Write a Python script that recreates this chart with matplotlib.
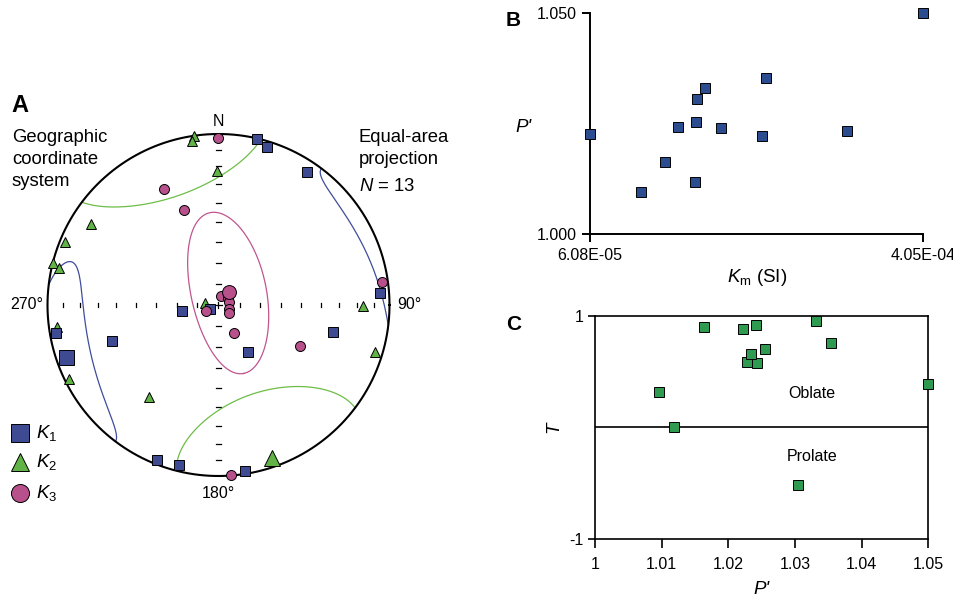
""" AMS SUMMARY FIGURE
    ------------------
    Equal-area stereonet of the principal susceptibility axes (A),
    degree of anisotropy versus bulk susceptibility (B) and shape
    parameter versus degree of anisotropy (C).
"""

import numpy as np
import matplotlib
matplotlib.use('Agg')
import matplotlib.pyplot as plt


# -------------------------------------------------------------------------------
# 0. DATA
# -------------------------------------------------------------------------------

# Projected axis positions on the lower-hemisphere net (unit primitive circle)

k1_x = [0.223, 0.282, 0.519, 0.944, 0.671, 0.174, -0.212, -0.050, -0.625, -0.950, -0.358, -0.229, 0.155]
k1_y = [0.969, 0.922, 0.778, 0.070, -0.158, -0.273, -0.035, -0.023, -0.212, -0.165, -0.906, -0.937, -0.971]

k2_x = [-0.143, -0.153, -0.007, -0.746, -0.898, -0.970, -0.931, -0.079, 0.843, -0.946, 0.917, -0.873, -0.405]
k2_y = [0.988, 0.961, 0.784, 0.472, 0.370, 0.247, 0.218, 0.013, -0.006, -0.130, -0.275, -0.431, -0.536]

k3_x = [-0.001, -0.319, -0.200, 0.954, 0.015, 0.054, 0.060, 0.060, 0.060, -0.073, 0.092, 0.477, 0.075]
k3_y = [0.977, 0.678, 0.556, 0.136, 0.054, 0.039, 0.018, -0.023, -0.044, -0.033, -0.165, -0.240, -0.994]

# Mean directions (projected) and 95% confidence semi-angles [deg] with ellipse rotation [deg]

mean_x = [-0.894, 0.315, 0.060]
mean_y = [-0.302, -0.896, 0.076]
conf_e1 = [15.0, 38.0, 39.7]
conf_e2 = [35.0, 34.0, 17.9]
conf_rot = [-12.0, 0.0, 50.0]

# Scalar parameters per specimen

km = [6.08e-5, 1.132e-4, 1.386e-4, 1.517e-4, 1.703e-4, 1.713e-4, 1.692e-4,
      1.799e-4, 1.958e-4, 2.387e-4, 2.422e-4, 3.265e-4, 4.05e-4]
p_prime = [1.0228, 1.0096, 1.0163, 1.0243, 1.0255, 1.0305, 1.0119,
           1.0332, 1.0241, 1.0222, 1.0354, 1.0234, 1.0500]
shape_t = [0.587, 0.314, 0.904, 0.575, 0.701, -0.521, 0.0,
           0.952, 0.922, 0.880, 0.760, 0.656, 0.389]


# -------------------------------------------------------------------------------
# 1. STYLE
# -------------------------------------------------------------------------------

plt.rcParams['font.family'] = ['Liberation Sans', 'DejaVu Sans']
plt.rcParams['mathtext.fontset'] = 'custom'
plt.rcParams['mathtext.rm'] = 'Liberation Sans'
plt.rcParams['mathtext.it'] = 'Liberation Sans:italic'

c_k1 = '#3e4a92'
c_k2 = '#62b347'
c_k3 = '#b8508c'
c_l1 = '#3f4d9c'
c_l2 = '#6dbd47'
c_l3 = '#c0558f'

W, H = 954, 598


def fx(px):
    return px / W


def fy(py):
    return 1 - py / H


# -------------------------------------------------------------------------------
# 2. STEREONET HELPERS
# -------------------------------------------------------------------------------

def unproject(x, y):

    """ Equal-area inverse: projected point -> unit vector (north, east, down) """

    r2 = x ** 2 + y ** 2
    d = 1 - r2
    s = np.sqrt(1 + d)
    return np.array([y * s, x * s, d])


def project(v):

    """ Equal-area lower-hemisphere projection of unit vectors (n, e, d) """

    v = np.where(v[:, 2:3] < 0, -v, v)
    s = 1 / np.sqrt(1 + v[:, 2])
    return v[:, 1] * s, v[:, 0] * s


def confidence_cone(x0, y0, e1, e2, rot, n=721):

    """ Elliptical cone around a mean direction, split where it crosses the primitive """

    m = unproject(x0, y0)
    tr = np.arctan2(m[1], m[0])
    pl = np.arcsin(m[2])
    u = np.array([-np.sin(pl) * np.cos(tr), -np.sin(pl) * np.sin(tr), np.cos(pl)])
    v = np.array([-np.sin(tr), np.cos(tr), 0.0])
    rot = np.radians(rot)
    a1 = np.cos(rot) * u + np.sin(rot) * v
    a2 = -np.sin(rot) * u + np.cos(rot) * v
    e1, e2 = np.radians(e1), np.radians(e2)

    t = np.linspace(0, 2 * np.pi, n)[:-1]
    rho = e1 * e2 / np.sqrt((e2 * np.cos(t)) ** 2 + (e1 * np.sin(t)) ** 2)
    pts = (np.cos(rho)[:, None] * m
           + np.sin(rho)[:, None] * (np.cos(t)[:, None] * a1 + np.sin(t)[:, None] * a2))

    up = pts[:, 2] < 0
    change = np.nonzero(up != np.roll(up, 1))[0]
    if len(change) == 0:
        pts = np.vstack([pts, pts[:1]])
        return [project(pts)]
    pts = np.roll(pts, -change[0], axis=0)
    up = np.roll(up, -change[0])
    cuts = np.nonzero(up[1:] != up[:-1])[0] + 1
    return [project(seg) for seg in np.split(pts, cuts)]


# -------------------------------------------------------------------------------
# 3. FIGURE
# -------------------------------------------------------------------------------

fig = plt.figure(figsize=(W / 100, H / 100), dpi=100)

# Panel A: stereonet

cx, cy, R = 218.5, 305, 171
ax = fig.add_axes([fx(cx - R), fy(cy + R), 2 * R / W, 2 * R / H])
ax.set_xlim(-1, 1)
ax.set_ylim(-1, 1)
ax.axis('off')

theta = np.linspace(0, 2 * np.pi, 400)
ax.plot(np.cos(theta), np.sin(theta), color='black', lw=1.5, clip_on=False, zorder=3)

# plunge ticks every 10 degrees along the two diameters
tick_r = np.sqrt(2) * np.sin(np.radians(np.arange(10, 90, 10)) / 2)
for r in tick_r:
    for s in (-1, 1):
        ax.plot([s * r, s * r], [-0.013, 0.013], color='black', lw=0.9)
        ax.plot([-0.015, 0.015], [s * r, s * r], color='black', lw=0.9)
ax.plot([-0.02, 0.02], [0, 0], color='black', lw=0.9)
ax.plot([0, 0], [-0.02, 0.02], color='black', lw=0.9)

for i, col in enumerate([c_l1, c_l2, c_l3]):
    for sx, sy in confidence_cone(mean_x[i], mean_y[i], conf_e1[i], conf_e2[i], conf_rot[i]):
        ax.plot(sx, sy, color=col, lw=0.9, clip_on=False, zorder=2)

mk = dict(linestyle='none', markeredgecolor='black', markeredgewidth=0.7, clip_on=False)
ax.plot(k2_x, k2_y, marker='^', markersize=7.2, markerfacecolor=c_k2, zorder=4, **mk)
ax.plot(k1_x, k1_y, marker='s', markersize=6.8, markerfacecolor=c_k1, zorder=5, **mk)
ax.plot(k3_x, k3_y, marker='o', markersize=7.2, markerfacecolor=c_k3, zorder=6, **mk)
ax.plot(mean_x[1], mean_y[1], marker='^', markersize=11, markerfacecolor=c_k2, zorder=4, **mk)
ax.plot(mean_x[0], mean_y[0], marker='s', markersize=10.8, markerfacecolor=c_k1, zorder=5, **mk)
ax.plot(mean_x[2], mean_y[2], marker='o', markersize=10, markerfacecolor=c_k3, zorder=6, **mk)

# legend
for ly, m, col, lab in [(433, 's', c_k1, '$K_1$'), (462, '^', c_k2, '$K_2$'), (493, 'o', c_k3, '$K_3$')]:
    ax.plot((20 - cx) / R, (cy - ly) / R, marker=m, markersize=13, markerfacecolor=col, **mk)
    fig.text(fx(36), fy(ly), lab, fontsize=13.5, va='center', ha='left')

fig.text(fx(11), fy(106), 'A', fontsize=17, fontweight='bold', va='center')
for k, line in enumerate(['Geographic', 'coordinate', 'system']):
    fig.text(fx(12), fy(142.5 + 21.7 * k), line, fontsize=13.3, va='baseline')
fig.text(fx(359), fy(142.5), 'Equal-area', fontsize=13.3, va='baseline')
fig.text(fx(359), fy(164.2), 'projection', fontsize=13.3, va='baseline')
fig.text(fx(359), fy(190.5), '$N$ = 13', fontsize=13.3, va='baseline')
fig.text(fx(cx), fy(125.5), 'N', fontsize=11.5, ha='center', va='baseline')
fig.text(fx(43), fy(309), '270°', fontsize=11.5, ha='right', va='baseline')
fig.text(fx(397), fy(309), '90°', fontsize=11.5, ha='left', va='baseline')
fig.text(fx(cx), fy(498), '180°', fontsize=11.5, ha='center', va='baseline')


# Panel B: P' versus Km

bx = fig.add_axes([fx(590), fy(234.3), 333.3 / W, 221 / H])
bx.plot(km, p_prime, marker='s', markersize=6.8, markerfacecolor='#2b4c8e', zorder=3, **mk)
bx.set_xlim(6.08e-5, 4.05e-4)
bx.set_ylim(1.0, 1.05)
bx.spines[['top', 'right']].set_visible(False)
bx.spines[['left', 'bottom']].set_linewidth(1.4)
bx.set_xticks([6.08e-5, 4.05e-4], ['6.08E-05', '4.05E-04'])
bx.set_yticks([1.0, 1.05], ['1.000', '1.050'])
bx.tick_params(axis='both', direction='out', length=6, width=1.4, labelsize=11.5)
bx.tick_params(axis='x', pad=4)
bx.tick_params(axis='y', pad=3.5)
bx.set_xlabel('$K_\\mathrm{m}$ (SI)', fontsize=13.5, labelpad=3)
fig.text(fx(523), fy(127), "P'", fontsize=13.5, style='italic', ha='center', va='center')
fig.text(fx(506), fy(20), 'B', fontsize=15, fontweight='bold', va='center')


# Panel C: T versus P'

tx = fig.add_axes([fx(595), fy(538.7), 333.3 / W, 222.7 / H])
tx.plot(p_prime, shape_t, marker='s', markersize=7.2, markerfacecolor='#2f9b50', zorder=3, **mk)
tx.axhline(0, color='black', lw=1.2, zorder=1)
tx.set_xlim(1.0, 1.05)
tx.set_ylim(-1, 1)
for s in tx.spines.values():
    s.set_linewidth(1.2)
tx.set_xticks([1.0, 1.01, 1.02, 1.03, 1.04, 1.05], ['1', '1.01', '1.02', '1.03', '1.04', '1.05'])
tx.set_yticks([-1, 1], ['-1', '1'])
tx.tick_params(axis='both', direction='out', width=1.2, labelsize=11.5)
tx.tick_params(axis='x', length=6.5, pad=7)
tx.tick_params(axis='y', length=5, pad=3.5)
tx.set_xlabel("P'", fontsize=13.5, style='italic', labelpad=6)
tx.set_ylabel('T', fontsize=13.5, style='italic', labelpad=5)
tx.text(1.0325, 0.3, 'Oblate', fontsize=11.5, ha='center', va='center')
tx.text(1.0325, -0.26, 'Prolate', fontsize=11.5, ha='center', va='center')
fig.text(fx(506), fy(325), 'C', fontsize=15, fontweight='bold', va='center')

fig.savefig('out.png', dpi=100)
